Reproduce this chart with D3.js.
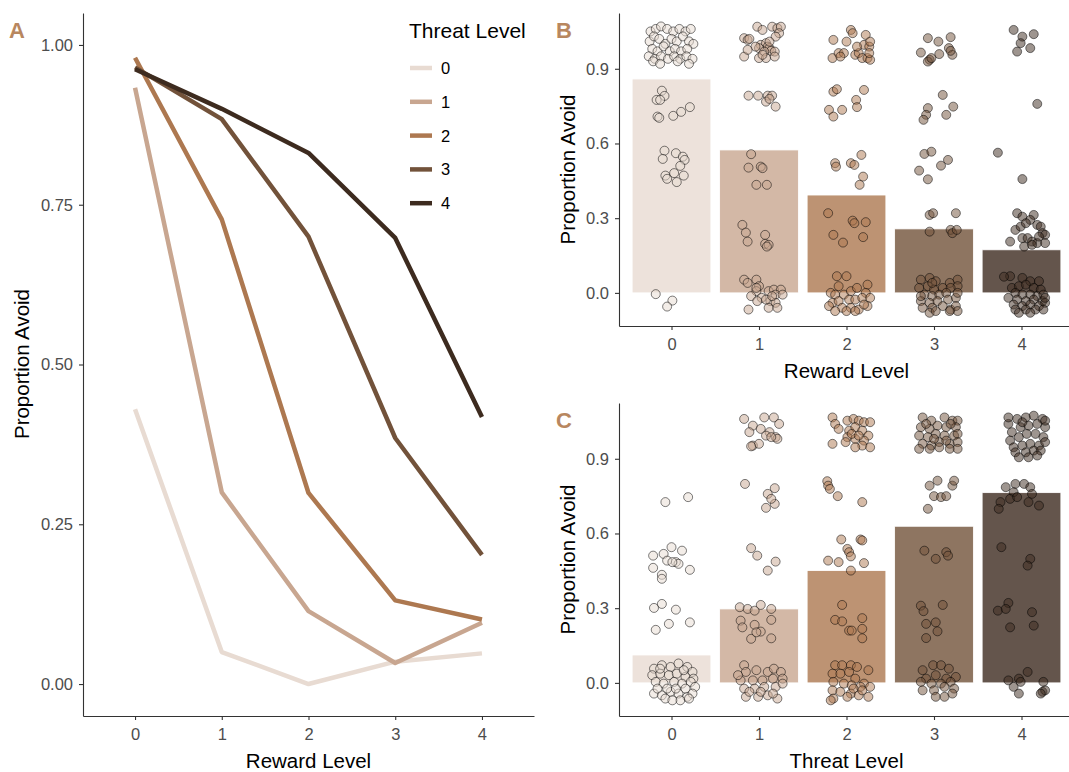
<!DOCTYPE html>
<html>
<head>
<meta charset="utf-8">
<script src="https://cdn.jsdelivr.net/npm/d3@7"></script>
<style>
  body { margin: 0; background: #fff; }
  text { font-family: "Liberation Sans", Arial, sans-serif; }
  .tick text { fill: #4d4d4d; font-size: 16.5px; }
  .tick line, .domain { stroke: #333; stroke-width: 1.1; }
</style>
</head>
<body>
<div id="chart"></div>
<script>
// levels and colours
var levels = [0, 1, 2, 3, 4]
var palette = ['#e8dbd2', '#c8a690', '#ad7850', '#72523a', '#3d2b1f']

// panel A: proportion avoid by reward level, one line per threat level
var lineByThreat = [
  [0.43, 0.05, 0.00, 0.035, 0.048],
  [0.933, 0.30, 0.114, 0.033, 0.096],
  [0.98, 0.727, 0.299, 0.131, 0.101],
  [0.965, 0.884, 0.70, 0.385, 0.202],
  [0.962, 0.90, 0.831, 0.698, 0.418]
]

// panel B: mean per reward level, panel C: mean per threat level
var barReward = [0.859, 0.574, 0.393, 0.257, 0.173]
var barThreat = [0.112, 0.297, 0.451, 0.629, 0.764]

var ticksA = [0, 0.25, 0.5, 0.75, 1]
var ticksBC = [0, 0.3, 0.6, 0.9]

// jittered subject points [x, y], panel B (by reward level)
var ptsB = [
 [[-0.24,1.05],[-0.18,1.06],[-0.12,1.07],[-0.05,1.06],[0.02,1.05],[0.09,1.06],[0.16,1.05],[0.22,1.06],
  [-0.25,1.01],[-0.2,1.03],[-0.14,1.02],[-0.07,1.0],[0.0,1.02],[0.06,1.01],[0.13,1.03],[0.2,1.01],[0.25,1.0],
  [-0.22,0.98],[-0.16,0.97],[-0.09,0.99],[-0.02,0.97],[0.04,0.98],[0.11,0.97],[0.18,0.98],
  [-0.26,0.95],[-0.19,0.94],[-0.12,0.95],[-0.04,0.94],[0.03,0.95],[0.1,0.94],[0.17,0.95],[0.24,0.94],
  [-0.21,0.93],[-0.13,0.92],[0.07,0.93],[0.2,0.92],
  [-0.11,0.812],[-0.17,0.775],[-0.08,0.791],[-0.13,0.775],[-0.16,0.708],[-0.14,0.703],[0.02,0.711],[0.11,0.727],[0.21,0.746],
  [-0.08,0.571],[-0.10,0.538],[0.05,0.561],[0.13,0.547],[0.15,0.534],[0.10,0.51],[-0.07,0.471],[-0.05,0.458],[0.03,0.481],[0.06,0.445],[0.14,0.471],
  [-0.18,-0.005],[0.01,-0.031],[-0.05,-0.055]],
 [[0.98,1.069],[1.04,1.056],[1.15,1.069],[1.21,1.063],[1.25,1.069],[1.23,1.043],[1.19,1.029],[0.83,1.023],[0.87,1.016],[0.89,1.02],
  [1.02,0.996],[1.08,1.003],[1.10,0.989],[1.12,0.983],[1.14,0.972],[1.0,0.983],[1.06,0.969],[1.18,0.969],[0.83,0.949],[1.0,0.943],
  [1.08,0.943],[1.18,0.949],[0.96,0.989],[0.87,0.976],[1.12,1.009],[1.04,0.956],
  [0.88,0.792],[0.99,0.792],[1.10,0.792],[1.15,0.792],[1.08,0.768],[1.19,0.748],[1.12,0.779],
  [0.91,0.557],[0.88,0.503],[1.02,0.507],[1.04,0.501],[0.97,0.434],[1.09,0.434],
  [0.81,0.273],[0.85,0.242],[0.87,0.206],[1.07,0.233],[1.07,0.197],[1.11,0.193],[1.09,0.186],
  [0.83,0.053],[0.87,0.04],[0.97,0.053],[1.0,0.027],[0.97,0.007],[1.11,0.007],[1.17,0.013],[1.25,0.013],[1.19,-0.007],[0.91,-0.013],
  [1.03,-0.02],[1.13,-0.033],[1.19,-0.04],[0.88,-0.067],[1.11,-0.06],[1.21,-0.06],[1.08,-0.027],[0.98,-0.033],[1.27,-0.007],[1.15,-0.013],[0.97,0.02]],
 [[1.85,1.016],[2.0,1.009],[2.05,1.056],[2.07,1.043],[2.22,1.036],[2.2,0.996],[2.26,0.989],[2.27,1.009],[1.84,0.943],[1.91,0.963],
  [1.97,0.963],[2.10,0.956],[2.14,0.963],[2.18,0.943],[2.24,0.943],[2.27,0.936],[2.26,0.963],[2.12,0.989],[1.93,0.949],
  [1.85,0.808],[1.89,0.818],[1.8,0.735],[1.85,0.708],[1.95,0.735],[2.11,0.775],[2.12,0.746],[2.2,0.815],
  [1.87,0.521],[1.88,0.507],[2.05,0.521],[2.09,0.514],[2.17,0.554],[2.19,0.467],[2.15,0.434],
  [1.79,0.32],[1.85,0.233],[1.96,0.202],[2.07,0.29],[2.09,0.28],[2.22,0.284],[2.19,0.224],
  [1.89,0.067],[2.0,0.067],[1.91,0.027],[1.82,0.0],[1.87,-0.007],[1.97,-0.007],[2.05,0.007],[2.12,0.02],[2.24,0.033],[2.22,0.0],
  [2.03,-0.027],[1.84,-0.04],[1.91,-0.033],[2.1,-0.027],[2.18,-0.02],[2.27,-0.02],[1.8,-0.053],[1.95,-0.06],[2.05,-0.06],[2.14,-0.067],
  [2.24,-0.053],[1.87,-0.073],[2.0,-0.073],[2.1,-0.073],[2.2,-0.047]],
 [[2.93,1.023],[3.05,1.009],[3.19,1.027],[2.85,0.965],[2.95,0.936],[3.06,0.959],[3.17,0.983],[3.21,0.956],[3.19,0.972],[2.93,0.929],[2.97,0.943],
  [3.10,0.795],[2.93,0.742],[2.91,0.715],[2.88,0.695],[3.14,0.715],[3.22,0.748],
  [2.89,0.558],[2.97,0.567],[2.83,0.491],[2.93,0.456],[3.08,0.511],[3.16,0.534],
  [2.95,0.313],[2.99,0.32],[3.25,0.32],[2.95,0.246],[3.19,0.253],[3.21,0.24],[3.26,0.253],
  [2.85,0.053],[2.95,0.06],[3.02,0.047],[3.18,0.04],[3.27,0.053],[3.27,0.027],[2.83,0.02],[2.93,0.027],[3.0,0.013],[3.1,0.02],
  [3.19,0.02],[2.89,-0.007],[2.98,-0.013],[3.06,-0.007],[3.14,0],[2.85,-0.033],[2.95,-0.04],[3.04,-0.033],[3.16,-0.027],[3.25,-0.02],
  [3.27,0],[2.87,-0.06],[2.98,-0.06],[3.1,-0.053],[3.19,-0.067],[3.25,-0.053],[3.27,-0.073],[2.95,-0.08],[3.02,-0.073],[3.18,-0.073],
  [2.85,-0.013],[2.98,0.04]],
 [[3.91,1.056],[4.01,1.029],[4.14,1.039],[3.99,1.003],[3.95,0.969],[4.10,0.983],
  [4.18,0.759],[3.73,0.563],[4.01,0.457],
  [3.95,0.32],[4.01,0.306],[4.14,0.313],[4.10,0.293],[4.18,0.273],[4.22,0.266],[3.93,0.253],[3.99,0.266],[4.05,0.28],[3.87,0.206],
  [4.01,0.22],[4.07,0.22],[4.12,0.206],[4.18,0.20],[4.24,0.24],[4.27,0.233],[4.27,0.20],[4.03,0.186],[4.12,0.193],[4.20,0.226],
  [3.87,0.067],[4.01,0.06],[4.10,0.047],[4.20,0.047],[3.89,0.02],[3.97,0.027],[4.05,0.033],[4.14,0.02],[4.22,0.013],[3.93,0],
  [4.01,-0.007],[4.10,-0.007],[4.18,-0.013],[4.25,-0.007],[3.85,-0.02],[3.95,-0.027],[4.05,-0.033],[4.14,-0.027],[4.24,-0.033],[3.91,-0.047],
  [4.01,-0.053],[4.10,-0.047],[4.20,-0.053],[4.27,-0.04],[3.93,-0.067],[4.05,-0.067],[4.16,-0.067],[4.25,-0.067],[3.97,-0.08],[4.10,-0.08],
  [4.27,-0.02],[3.80,0.065]]
]

// jittered subject points [x, y], panel C (by threat level)
var ptsC = [
 [[-0.07,0.726],[0.19,0.746],
  [-0.21,0.511],[-0.09,0.518],[0.0,0.545],[0.12,0.531],[0.05,0.485],[0.08,0.478],[-0.21,0.462],[-0.11,0.434],[0.21,0.454],[-0.05,0.491],[0.01,0.485],[-0.11,0.418],
  [-0.11,0.317],[-0.2,0.301],[0.05,0.294],[-0.18,0.213],[-0.03,0.237],[0.21,0.243],
  [-0.2,0.057],[-0.11,0.071],[-0.01,0.064],[0.08,0.078],[0.18,0.064],[0.24,0.044],[-0.22,0.031],[-0.13,0.037],[-0.03,0.031],[0.06,0.037],
  [0.16,0.024],[0.25,0.017],[-0.18,0.004],[-0.09,-0.003],[0.03,0.004],[0.12,-0.003],[0.22,0.004],[0.27,-0.016],[-0.2,-0.043],[-0.11,-0.05],
  [-0.01,-0.036],[0.08,-0.043],[0.18,-0.056],[0.24,-0.043],[-0.16,-0.023],[-0.05,-0.023],[0.05,-0.023],[0.16,-0.023],[-0.07,-0.063],[0.1,-0.07],
  [0.2,-0.063],[0.01,-0.07],[-0.13,0.057],[0.14,0.051]],
 [[0.83,1.06],[0.93,1.033],[1.06,1.066],[1.17,1.066],[1.23,1.04],[0.89,1.007],[1.02,1.02],[1.12,1.007],[1.08,0.993],[1.19,0.987],
  [1.21,0.98],[1.14,0.987],[0.93,0.953],[1.0,0.96],[0.91,0.95],
  [0.84,0.799],[1.10,0.759],[1.18,0.782],[1.08,0.703],[1.18,0.719],[1.14,0.739],
  [0.91,0.541],[0.98,0.511],[1.19,0.487],[1.10,0.451],
  [0.78,0.304],[0.87,0.297],[0.95,0.29],[1.02,0.313],[1.14,0.297],[0.79,0.25],[0.81,0.223],[0.95,0.233],[1.02,0.206],[1.14,0.253],
  [0.91,0.177],[1.14,0.179],[0.97,0.203],
  [0.83,0.071],[0.85,0.044],[0.97,0.051],[1.1,0.044],[1.17,0.057],[1.25,0.044],[0.79,0.01],[0.93,0.01],[1.04,0.01],[1.16,0.017],
  [1.27,0.017],[0.83,-0.023],[0.95,-0.023],[1.06,-0.016],[1.19,-0.016],[0.85,-0.056],[0.99,-0.056],[1.1,-0.05],[1.21,-0.063],[0.89,-0.036],
  [1.02,-0.036],[1.16,-0.043],[0.76,0.031],[1.27,-0.003]],
 [[1.84,1.066],[1.87,1.04],[2.01,1.053],[2.08,1.06],[2.14,1.053],[2.2,1.047],[2.27,1.047],[1.91,1.02],[2.03,1.013],[2.1,1.027],
  [2.18,1.013],[2.25,0.993],[2.01,0.987],[2.1,0.98],[2.2,0.973],[2.06,1.0],[1.84,0.96],[1.99,0.967],[2.18,0.953],[2.27,0.946],
  [2.1,0.946],[2.14,0.993],
  [1.78,0.81],[1.79,0.792],[1.81,0.779],[1.9,0.75],[2.18,0.726],
  [1.94,0.576],[2.16,0.576],[2.18,0.572],[2.01,0.538],[2.03,0.525],[2.05,0.508],[1.79,0.491],[1.91,0.485],[2.2,0.481],[2.05,0.451],
  [1.95,0.313],[1.87,0.253],[1.95,0.247],[2.03,0.21],[2.06,0.21],[2.18,0.26],[2.18,0.217],[2.18,0.179],
  [1.87,0.071],[1.95,0.071],[2.05,0.071],[2.12,0.064],[2.25,0.051],[1.84,0.037],[1.93,0.037],[2.03,0.044],[2.1,0.017],[2.2,-0.003],
  [2.27,-0.016],[1.85,0.004],[1.97,-0.003],[2.06,-0.01],[2.16,-0.016],[1.84,-0.03],[1.93,-0.036],[2.05,-0.043],[2.25,-0.056],[1.85,-0.063],
  [2.01,-0.056],[2.14,-0.05],[1.82,-0.07],[2.18,-0.03],[2.08,-0.023]],
 [[2.87,1.066],[2.97,1.053],[3.12,1.066],[3.21,1.053],[3.27,1.053],[2.85,1.027],[2.95,1.02],[3.04,1.033],[3.14,1.027],[3.25,1.027],
  [2.83,0.993],[2.93,0.987],[3.02,1.0],[3.12,0.993],[3.23,0.993],[3.27,1.0],[2.87,0.96],[2.97,0.953],[3.06,0.967],[3.18,0.96],
  [3.27,0.967],[2.83,0.94],[2.95,0.94],[3.06,0.946],[3.18,0.94],[3.27,0.94],[3.0,0.98],[3.14,0.973],[2.91,1.04],[3.19,1.04],
  [2.95,0.792],[3.04,0.812],[3.0,0.75],[3.08,0.746],[3.14,0.75],[3.21,0.792],[3.23,0.812],[2.93,0.699],
  [2.89,0.531],[3.02,0.498],[3.14,0.525],[3.16,0.511],
  [2.85,0.31],[2.88,0.288],[3.1,0.313],[2.91,0.237],[3.02,0.243],[3.04,0.207],[2.91,0.18],
  [2.87,0.051],[2.99,0.071],[3.08,0.071],[3.17,0.057],[2.91,0.017],[3.02,0.031],[3.14,0.017],[3.25,0.024],[2.85,0.004],[2.97,-0.003],
  [3.08,-0.003],[3.19,0.004],[3.0,-0.03],[3.12,-0.016],[2.87,-0.03],[3.23,-0.023],[3.02,-0.056],[3.12,-0.056],[3.21,-0.043]],
 [[3.85,1.04],[3.95,1.06],[4.05,1.066],[4.14,1.073],[4.24,1.06],[3.89,1.007],[3.99,1.027],[4.08,1.033],[4.18,1.04],[4.27,1.027],
  [3.87,0.973],[3.97,0.987],[4.06,1.0],[4.16,1.0],[4.25,0.987],[3.91,0.946],[4.01,0.953],[4.1,0.96],[4.2,0.953],[4.27,0.967],
  [3.93,0.926],[4.05,0.926],[4.14,0.933],[4.22,0.933],[3.97,0.906],[4.08,0.906],[4.18,0.913],[3.85,1.066],[4.27,1.053],[4.01,1.047],
  [3.82,0.786],[3.93,0.799],[4.03,0.799],[4.1,0.786],[3.91,0.766],[4.12,0.759],[3.76,0.726],[3.87,0.739],[3.95,0.746],[4.08,0.726],
  [4.2,0.712],[3.74,0.699],
  [3.77,0.545],[4.1,0.498],[4.07,0.471],
  [3.73,0.29],[3.85,0.321],[3.82,0.297],[4.12,0.284],[3.87,0.223],[4.14,0.23],
  [3.85,0.01],[3.97,0.017],[4.07,0.044],[3.91,-0.016],[3.99,0.004],[4.25,0.004],[3.97,-0.043],[4.24,-0.036],[4.27,-0.03],[4.22,-0.043]]
]

var svg = d3.select('#chart')
            .append('svg')
            .attr('width', 1069)
            .attr('height', 772)

// ---------- panel A ----------
var xA = d3.scaleLinear().domain([-0.6, 4.6]).range([83, 534])
var yA = d3.scaleLinear().domain([-0.05, 1.05]).range([716, 13])

svg.append('g')
   .attr('transform', 'translate(83,0)')
   .call(d3.axisLeft(yA).tickValues(ticksA).tickFormat(d3.format('.2f')).tickSize(4).tickSizeOuter(0).tickPadding(6))
svg.append('g')
   .attr('transform', 'translate(0,716)')
   .call(d3.axisBottom(xA).tickValues(levels).tickFormat(d3.format('d')).tickSize(4).tickSizeOuter(0).tickPadding(8))

var line = d3.line()
             .x(function(d, i){ return xA(levels[i]) })
             .y(function(d){ return yA(d) })

for (var t = 0; t < lineByThreat.length; t++)
{
  svg.append('path')
     .attr('d', line(lineByThreat[t]))
     .attr('fill', 'none')
     .attr('stroke', palette[t])
     .attr('stroke-width', 4.5)
     .attr('stroke-linejoin', 'round')
}

// legend
svg.append('text').attr('x', 409).attr('y', 38).text('Threat Level').style('font-size', '21px')
for (var t = 0; t < levels.length; t++)
{
  var ly = 68 + t*33.8
  svg.append('line')
     .attr('x1', 410).attr('x2', 432)
     .attr('y1', ly).attr('y2', ly)
     .attr('stroke', palette[t])
     .attr('stroke-width', 4.5)
  svg.append('text')
     .attr('x', 441).attr('y', ly)
     .attr('dy', '0.36em')
     .text(levels[t])
     .style('font-size', '16.5px')
}

svg.append('text')
   .attr('transform', 'translate(22,364) rotate(-90)')
   .attr('text-anchor', 'middle').attr('dy', '0.36em')
   .text('Proportion Avoid').style('font-size', '20.5px')
svg.append('text')
   .attr('x', xA(2)).attr('y', 768)
   .attr('text-anchor', 'middle')
   .text('Reward Level').style('font-size', '20.5px')

// ---------- panels B and C ----------
var xBC = d3.scaleLinear().domain([-0.6, 4.6]).range([619, 1074])

function barPanel(top, bottom, means, pts, xTitle, label)
{
  var y = d3.scaleLinear().domain([-0.133, 1.124]).range([bottom, top])

  svg.selectAll(null)
     .data(means)
     .enter()
     .append('rect')
     .attr('x', function(d, i){ return xBC(levels[i] - 0.45) })
     .attr('width', xBC(0.9) - xBC(0))
     .attr('y', function(d){ return y(d) })
     .attr('height', function(d){ return y(0) - y(d) })
     .attr('fill', function(d, i){ return palette[i] })
     .attr('fill-opacity', 0.8)
     .attr('stroke', '#fff')
     .attr('stroke-width', 0.8)

  for (var g = 0; g < pts.length; g++)
  {
    svg.selectAll(null)
       .data(pts[g])
       .enter()
       .append('circle')
       .attr('cx', function(d){ return xBC(d[0]) })
       .attr('cy', function(d){ return y(d[1]) })
       .attr('r', 4.5)
       .attr('fill', palette[g])
       .attr('fill-opacity', 0.5)
       .attr('stroke', '#000')
       .attr('stroke-opacity', 0.5)
       .attr('stroke-width', 1)
  }

  svg.append('g')
     .attr('transform', 'translate(619,0)')
     .call(d3.axisLeft(y).tickValues(ticksBC).tickFormat(d3.format('.1f')).tickSize(4).tickSizeOuter(0).tickPadding(6))
  svg.append('g')
     .attr('transform', 'translate(0,' + bottom + ')')
     .call(d3.axisBottom(xBC).tickValues(levels).tickFormat(d3.format('d')).tickSize(4).tickSizeOuter(0).tickPadding(8))

  svg.append('text')
     .attr('transform', 'translate(568,' + ((top + bottom)/2) + ') rotate(-90)')
     .attr('text-anchor', 'middle').attr('dy', '0.36em')
     .text('Proportion Avoid').style('font-size', '20.5px')
  svg.append('text')
     .attr('x', xBC(2)).attr('y', bottom + 52)
     .attr('text-anchor', 'middle')
     .text(xTitle).style('font-size', '20.5px')
  svg.append('text')
     .attr('x', 556).attr('y', top + 25)
     .text(label)
     .style('font-size', '22px').style('font-weight', 'bold').style('fill', '#b8875f')
}

barPanel(13, 326, barReward, ptsB, 'Reward Level', 'B')
barPanel(403, 716, barThreat, ptsC, 'Threat Level', 'C')

svg.append('text')
   .attr('x', 9).attr('y', 38)
   .text('A')
   .style('font-size', '22px').style('font-weight', 'bold').style('fill', '#b8875f')
</script>
</body>
</html>
